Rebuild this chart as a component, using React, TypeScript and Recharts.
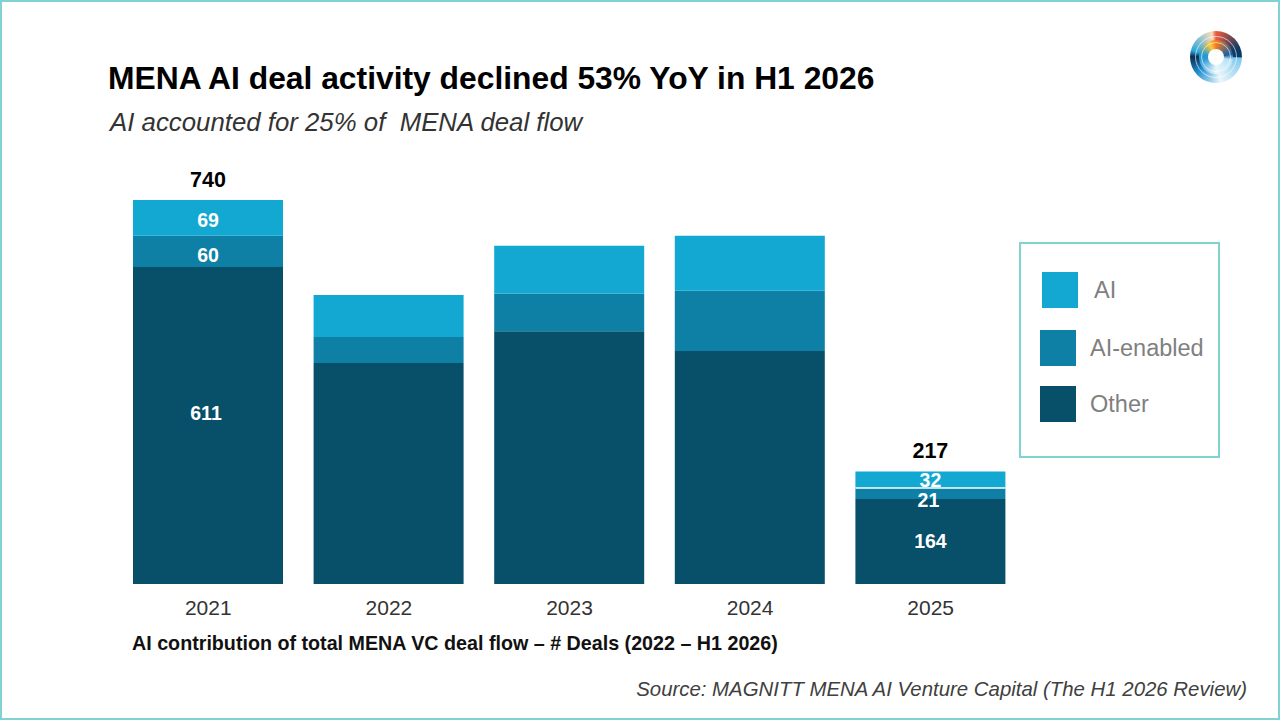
import { BarChart, Bar, XAxis, YAxis, Legend, LabelList, Rectangle } from "recharts";

const years = ["2021", "2022", "2023", "2024", "2025"];
const otherDeals = [611, 426, 487, 449, 164];
const aiEnabledDeals = [60, 50, 73, 116, 21];
const aiDeals = [69, 81, 92, 106, 32];

// only these bars carry numbers in the original
const otherLabels = ["611", null, null, null, "164"];
const aiEnabledLabels = ["60", null, null, null, "21"];
const aiLabels = ["69", null, null, null, "32"];
const totalLabels = ["740", null, null, null, "217"];

const data = years.map((year, i) => ({
  year,
  Other: otherDeals[i],
  "AI-enabled": aiEnabledDeals[i],
  AI: aiDeals[i],
  otherLabel: otherLabels[i],
  enabledLabel: aiEnabledLabels[i],
  aiLabel: aiLabels[i],
  totalLabel: totalLabels[i],
}));

const FONT = '"Liberation Sans", Arial, sans-serif';
const COLORS = { AI: "#12a8d1", enabled: "#0e80a6", other: "#084f6a" };
const TEAL = "#7fd3d1";

// hand-placed labels in the slide, offsets from the segment centre
function segmentLabel(shifts: Record<number, [number, number]>) {
  return (props: any) => {
    const { x, y, width, height, value, index } = props;
    if (value == null) return null;
    const [dx, dy] = shifts[index] || [0, 0];
    return (
      <text
        x={x + width / 2 + dx}
        y={y + height / 2 + dy}
        textAnchor="middle"
        dominantBaseline="central"
        fill="#fff"
        fontFamily={FONT}
        fontSize={19.5}
        fontWeight={700}
      >
        {value}
      </text>
    );
  };
}

function totalLabel(props: any) {
  const { x, y, width, value } = props;
  if (value == null) return null;
  return (
    <text
      x={x + width / 2}
      y={y - 20}
      textAnchor="middle"
      dominantBaseline="central"
      fill="#000"
      fontFamily={FONT}
      fontSize={21.5}
      fontWeight={700}
    >
      {value}
    </text>
  );
}

// 2025 has a thin white rule between AI and AI-enabled
function AiBar(props: any) {
  const { x, y, width, height, fill, index } = props;
  return (
    <g>
      <Rectangle x={x} y={y} width={width} height={height} fill={fill} />
      {index === 4 && <line x1={x} x2={x + width} y1={y + height} y2={y + height} stroke="#fff" strokeWidth={1.5} />}
    </g>
  );
}

function LegendBox({ payload }: any) {
  const items = payload || [];
  return (
    <div
      style={{
        boxSizing: "border-box",
        width: 201,
        height: 216,
        border: `2px solid ${TEAL}`,
        padding: "28px 0 0 19px",
        fontFamily: FONT,
      }}
    >
      {items.map((item: any, i: number) => (
        <div key={item.value} style={{ display: "flex", alignItems: "center", height: 36, marginBottom: i === 0 ? 22 : 20, marginLeft: i === 0 ? 2 : 0 }}>
          <div style={{ width: 36, height: 36, background: item.color }} />
          <span style={{ marginLeft: i === 0 ? 16 : 14, fontSize: 23.5, color: "#7f7f7f" }}>{item.value}</span>
        </div>
      ))}
    </div>
  );
}

function Logo() {
  const ring = (size: number) => ({
    position: "absolute" as const,
    left: 26 - size / 2,
    top: 26 - size / 2,
    width: size - 2,
    height: size - 2,
    borderRadius: "50%",
    border: "1px solid rgba(255,255,255,.6)",
  });
  return (
    <div
      style={{
        position: "absolute",
        left: 1190,
        top: 31,
        width: 52,
        height: 52,
        borderRadius: "50%",
        background:
          "conic-gradient(#ef5a3c 0deg, #0b3a66 70deg, #0b3a66 90deg, #7cc8ec 92deg, #eaf6fb 170deg, #1f8fd0 230deg, #0a3358 268deg, #0a3358 272deg, #2aa7d8 285deg, #f8dcc0 350deg, #ef5a3c 360deg)",
      }}
    >
      <div
        style={{
          position: "absolute",
          left: 9,
          top: 9,
          width: 34,
          height: 34,
          borderRadius: "50%",
          background:
            "conic-gradient(#f7791a 0deg, #1a5fa0 80deg, #b8e2f5 100deg, #eaf6fb 180deg, #2a9ad8 260deg, #1f9ad6 280deg, #ffc93c 335deg, #f7791a 360deg)",
        }}
      />
      <div style={ring(42)} />
      <div style={ring(30)} />
      <div style={{ position: "absolute", left: 18, top: 18, width: 16, height: 16, borderRadius: "50%", background: "#fff" }} />
    </div>
  );
}

const textStyle = { position: "absolute" as const, whiteSpace: "pre" as const, fontFamily: FONT, margin: 0 };

export default function App() {
  return (
    <div style={{ position: "fixed", left: 0, top: 0, width: 1280, height: 720, background: "#fff", overflow: "hidden" }}>
      <BarChart
        width={1280}
        height={720}
        data={data}
        margin={{ top: 200, right: 58, bottom: 106, left: 118 }}
        style={{ position: "absolute", left: 0, top: 0 }}
      >
        <XAxis
          dataKey="year"
          height={30}
          axisLine={false}
          tickLine={false}
          tickMargin={10}
          tick={{ fontSize: 21, fill: "#333", fontFamily: FONT }}
        />
        <YAxis hide domain={[0, 740]} />
        <Legend
          layout="vertical"
          align="right"
          verticalAlign="top"
          content={<LegendBox />}
          wrapperStyle={{ top: 242, right: 60, width: 201 }}
        />
        <Bar dataKey="Other" stackId="a" fill={COLORS.other} barSize={150} isAnimationActive={false}>
          <LabelList dataKey="otherLabel" content={segmentLabel({ 0: [-2, -12] })} />
        </Bar>
        <Bar dataKey="AI-enabled" stackId="a" fill={COLORS.enabled} barSize={150} isAnimationActive={false}>
          <LabelList dataKey="enabledLabel" content={segmentLabel({ 0: [0, 4], 4: [-2, 7] })} />
        </Bar>
        <Bar dataKey="AI" stackId="a" fill={COLORS.AI} barSize={150} isAnimationActive={false} shape={<AiBar />}>
          <LabelList dataKey="aiLabel" content={segmentLabel({ 0: [0, 2], 4: [0, 0] })} />
          <LabelList dataKey="totalLabel" content={totalLabel} />
        </Bar>
      </BarChart>

      <h1 style={{ ...textStyle, left: 108, top: 60, fontSize: 31.8, lineHeight: "36px", fontWeight: 700, color: "#000" }}>
        MENA AI deal activity declined 53% YoY in H1 2026
      </h1>
      <div style={{ ...textStyle, left: 110, top: 106, fontSize: 25.8, lineHeight: "32px", fontStyle: "italic", color: "#333" }}>
        AI accounted for 25% of  MENA deal flow
      </div>
      <div style={{ ...textStyle, left: 132, top: 632, fontSize: 19.7, lineHeight: "22px", fontWeight: 700, color: "#111" }}>
        AI contribution of total MENA VC deal flow – # Deals (2022 – H1 2026)
      </div>
      <div style={{ ...textStyle, right: 33, top: 677, fontSize: 20.4, lineHeight: "24px", fontStyle: "italic", color: "#404040" }}>
        Source: MAGNITT MENA AI Venture Capital (The H1 2026 Review)
      </div>
      <Logo />
      <div style={{ position: "absolute", inset: 0, border: `2px solid ${TEAL}`, pointerEvents: "none" }} />
    </div>
  );
}
